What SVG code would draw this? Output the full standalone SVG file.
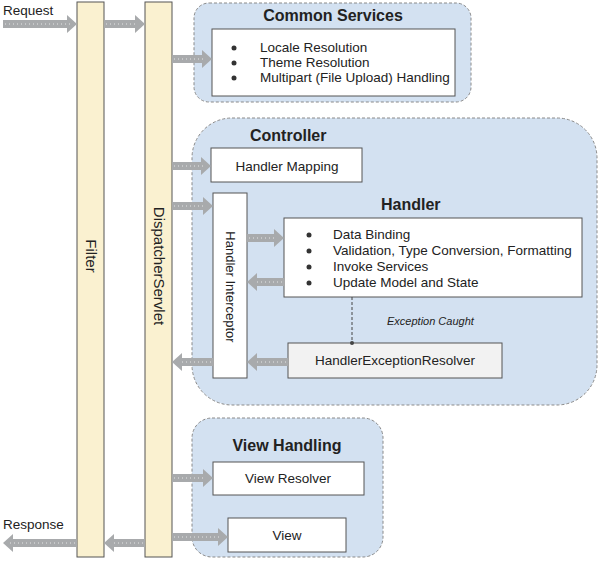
<svg xmlns="http://www.w3.org/2000/svg" width="600" height="561" viewBox="0 0 600 561">
  <defs>
    <style>
      text { font-family: "Liberation Sans", Arial, sans-serif; fill: #222; }
      .bar { fill: #faf1d0; stroke: #555; stroke-width: 1; }
      .group { fill: #d3e1f1; stroke: #8a8a8a; stroke-width: 1; stroke-dasharray: 3 2; }
      .box { fill: #ffffff; stroke: #555; stroke-width: 1; }
      .boxgray { fill: #f2f2f2; stroke: #555; stroke-width: 1; }
      .title { font-size: 16px; font-weight: bold; }
      .label { font-size: 13.5px; }
      .rlabel { font-size: 13px; }
      .vlabel { font-size: 15px; }
      .note { font-size: 11px; font-style: italic; }
      .shaft { stroke: #a8aaac; stroke-width: 8; fill: none; marker-end: url(#head); }
      .dots { stroke: #ffffff; stroke-width: 1; stroke-dasharray: 1 3; opacity: 0.7; }
      .bullet { fill: #333; }
      .dash { stroke: #444; stroke-width: 1; stroke-dasharray: 3 2; fill: none; }
    </style>
    <marker id="head" markerUnits="userSpaceOnUse" viewBox="0 0 10 18" markerWidth="10" markerHeight="18" refX="0" refY="9" orient="auto">
      <path d="M0,0 L10,9 L0,18 Z" fill="#a8aaac"/>
    </marker>
  </defs>

  <!-- Containers -->
  <g id="common-services">
    <rect class="group" x="194" y="3" width="277" height="99" rx="15" ry="15"/>
    <text class="title" x="333" y="21" text-anchor="middle">Common Services</text>
    <rect class="box" x="212" y="29" width="243" height="67"/>
    <circle class="bullet" cx="234" cy="48" r="2.5"/>
    <circle class="bullet" cx="234" cy="63" r="2.5"/>
    <circle class="bullet" cx="234" cy="78" r="2.5"/>
    <text class="label" x="260" y="52">Locale Resolution</text>
    <text class="label" x="260" y="67">Theme Resolution</text>
    <text class="label" x="260" y="82">Multipart (File Upload) Handling</text>
  </g>

  <g id="controller">
    <rect class="group" x="192" y="118" width="405" height="287" rx="40" ry="40"/>
    <text class="title" x="250" y="141">Controller</text>
  </g>

  <g id="view-handling">
    <rect class="group" x="192" y="418" width="191" height="139" rx="20" ry="20"/>
    <text class="title" x="287" y="451" text-anchor="middle">View Handling</text>
  </g>

  <!-- Bars -->
  <g id="filter">
    <rect class="bar" x="77" y="2" width="27" height="555"/>
    <text class="vlabel" transform="translate(85.5,256) rotate(90)" text-anchor="middle">Filter</text>
  </g>
  <g id="dispatcher-servlet">
    <rect class="bar" x="145" y="2" width="27" height="555"/>
    <text class="vlabel" transform="translate(153.5,266) rotate(90)" text-anchor="middle">DispatcherServlet</text>
  </g>

  <!-- Nodes -->
  <g id="handler-mapping">
    <rect class="box" x="211" y="148" width="151" height="34"/>
    <text class="label" x="287" y="171" text-anchor="middle">Handler Mapping</text>
  </g>

  <g id="handler-interceptor">
    <rect class="box" x="213" y="193" width="34" height="185"/>
    <text class="rlabel" transform="translate(225.5,287) rotate(90)" text-anchor="middle">Handler Interceptor</text>
  </g>

  <g id="handler">
    <text class="title" x="381" y="210">Handler</text>
    <rect class="box" x="284" y="218" width="298" height="79"/>
    <circle class="bullet" cx="309" cy="235" r="2.5"/>
    <circle class="bullet" cx="309" cy="251" r="2.5"/>
    <circle class="bullet" cx="309" cy="267" r="2.5"/>
    <circle class="bullet" cx="309" cy="283" r="2.5"/>
    <text class="label" x="333" y="239">Data Binding</text>
    <text class="label" x="333" y="255">Validation, Type Conversion, Formatting</text>
    <text class="label" x="333" y="271">Invoke Services</text>
    <text class="label" x="333" y="287">Update Model and State</text>
  </g>

  <g id="handler-exception-resolver">
    <rect class="boxgray" x="288" y="343" width="214" height="35"/>
    <text class="label" x="395" y="365" text-anchor="middle">HandlerExceptionResolver</text>
  </g>

  <g id="view-resolver">
    <rect class="box" x="213" y="462" width="151" height="33"/>
    <text class="label" x="288" y="483" text-anchor="middle">View Resolver</text>
  </g>

  <g id="view">
    <rect class="box" x="228" y="518" width="118" height="34"/>
    <text class="label" x="287" y="540" text-anchor="middle">View</text>
  </g>

  <!-- Labels -->
  <text class="label" x="3" y="15">Request</text>
  <text class="label" x="3" y="529">Response</text>

  <!-- Connectors -->
  <g id="connectors">
    <line class="shaft" x1="3" y1="24" x2="67" y2="24"/>
    <line class="shaft" x1="104" y1="24" x2="135" y2="24"/>
    <line class="shaft" x1="172" y1="59" x2="202" y2="59"/>
    <line class="shaft" x1="172" y1="166" x2="201" y2="166"/>
    <line class="shaft" x1="172" y1="206" x2="203" y2="206"/>
    <line class="shaft" x1="247" y1="238" x2="274" y2="238"/>
    <line class="shaft" x1="284" y1="282" x2="257" y2="282"/>
    <line class="shaft" x1="288" y1="362" x2="257" y2="362"/>
    <line class="shaft" x1="213" y1="362" x2="182" y2="362"/>
    <line class="shaft" x1="172" y1="478" x2="203" y2="478"/>
    <line class="shaft" x1="172" y1="537" x2="218" y2="537"/>
    <line class="shaft" x1="145" y1="543" x2="114" y2="543"/>
    <line class="shaft" x1="77" y1="543" x2="13" y2="543"/>
    <g class="dots">
      <line x1="5" y1="24" x2="70" y2="24"/>
      <line x1="106" y1="24" x2="138" y2="24"/>
      <line x1="174" y1="59" x2="205" y2="59"/>
      <line x1="174" y1="166" x2="204" y2="166"/>
      <line x1="174" y1="206" x2="206" y2="206"/>
      <line x1="249" y1="238" x2="277" y2="238"/>
      <line x1="282" y1="282" x2="254" y2="282"/>
      <line x1="286" y1="362" x2="254" y2="362"/>
      <line x1="211" y1="362" x2="179" y2="362"/>
      <line x1="174" y1="478" x2="206" y2="478"/>
      <line x1="174" y1="537" x2="221" y2="537"/>
      <line x1="143" y1="543" x2="111" y2="543"/>
      <line x1="75" y1="543" x2="10" y2="543"/>
    </g>
    <line class="dash" x1="352" y1="297" x2="352" y2="343"/>
    <circle cx="352" cy="343" r="2" fill="#444"/>
    <text class="note" x="387" y="325">Exception Caught</text>
  </g>
</svg>
